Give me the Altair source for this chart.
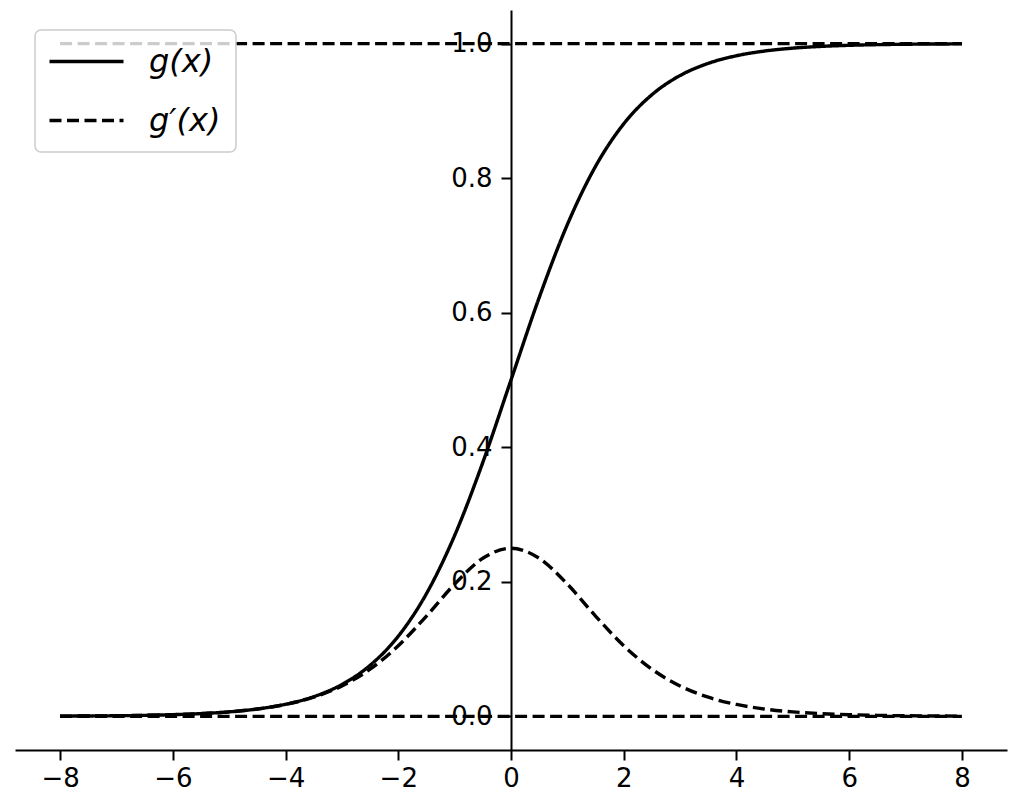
import altair as alt
import pandas as pd

# x positions
xs = [-8, -7.5, -7, -6.5, -6, -5.5, -5, -4.5, -4, -3.5, -3, -2.5, -2, -1.5, -1, -0.5,
      0, 0.5, 1, 1.5, 2, 2.5, 3, 3.5, 4, 4.5, 5, 5.5, 6, 6.5, 7, 7.5, 8]
# g(x) values
g_vals = [0.0003, 0.0006, 0.0009, 0.0015, 0.0025, 0.0041, 0.0067, 0.0110, 0.0180, 0.0293,
          0.0474, 0.0759, 0.1192, 0.1824, 0.2689, 0.3775, 0.5, 0.6225, 0.7311, 0.8176,
          0.8808, 0.9241, 0.9526, 0.9707, 0.9820, 0.9890, 0.9933, 0.9959, 0.9975, 0.9985,
          0.9991, 0.9994, 0.9997]
# g'(x) values
dg_vals = [0.0003, 0.0006, 0.0009, 0.0015, 0.0025, 0.0041, 0.0066, 0.0109, 0.0177, 0.0285,
           0.0452, 0.0701, 0.1050, 0.1491, 0.1966, 0.2350, 0.25, 0.2350, 0.1966, 0.1491,
           0.1050, 0.0701, 0.0452, 0.0285, 0.0177, 0.0109, 0.0066, 0.0041, 0.0025, 0.0015,
           0.0009, 0.0006, 0.0003]
series_names = ["g(x)", "g\u2032(x)"]
hline_y = [0.0, 1.0]
hline_x = [-8, 8]
x_ticks = [-8, -6, -4, -2, 0, 2, 4, 6, 8]
y_ticks = [0.0, 0.2, 0.4, 0.6, 0.8, 1.0]

rows = []
for x, v in zip(xs, g_vals):
    rows.append({"x": x, "y": v, "series": series_names[0]})
for x, v in zip(xs, dg_vals):
    rows.append({"x": x, "y": v, "series": series_names[1]})
df = pd.DataFrame(rows)

hdf = pd.DataFrame([{"x": hline_x[0], "x2": hline_x[1], "y": yv} for yv in hline_y])

W, H = 992, 740
xscale = alt.Scale(domain=[-8.8, 8.8], nice=False, zero=False)
yscale = alt.Scale(domain=[-0.05, 1.05], nice=False, zero=False)

DASH = [12, 5.5]
LW = 3.4

x_axis = alt.Axis(values=x_ticks, format="d", title=None, grid=False,
                  tickSize=10, labelPadding=5)
y_axis = alt.Axis(values=y_ticks, format=".1f", title=None, grid=False,
                  offset=-496, tickSize=10, labelPadding=9)

hlines = alt.Chart(hdf).mark_rule(color="black", strokeWidth=LW, strokeDash=DASH).encode(
    x=alt.X("x:Q", scale=xscale, axis=x_axis),
    x2="x2:Q",
    y=alt.Y("y:Q", scale=yscale, axis=y_axis),
)

curves = alt.Chart(df).mark_line(color="black", strokeWidth=LW, interpolate="monotone").encode(
    x=alt.X("x:Q", scale=xscale, axis=x_axis),
    y=alt.Y("y:Q", scale=yscale, axis=y_axis),
    strokeDash=alt.StrokeDash(
        "series:N",
        scale=alt.Scale(domain=series_names, range=[[1, 0], DASH]),
        legend=alt.Legend(
            title=None, orient="none", legendX=20, legendY=20,
            symbolType="M-2.5,0H2.5", symbolSize=876, symbolStrokeWidth=LW,
            symbolStrokeColor="black", symbolOffset=20,
            labelFontSize=32, labelFont="DejaVu Sans",
            labelFontStyle="italic", labelColor="black", labelOffset=46,
            rowPadding=26, padding=15, fillColor="rgba(255,255,255,0.8)",
            strokeColor="#cccccc", cornerRadius=6, labelLimit=300,
        ),
    ),
)

chart = alt.layer(hlines, curves).properties(
    width=W, height=H,
    autosize=alt.AutoSizeParams(type="none"),
    padding={"left": 15, "top": 10, "right": 25, "bottom": 56},
).configure(background="white").configure_view(
    stroke=None, strokeWidth=0
).configure_axis(
    domainColor="black", domainWidth=2, tickColor="black", tickWidth=2,
    labelFontSize=26, labelColor="black", labelFont="DejaVu Sans",
).configure_legend(strokeWidth=1.5)

chart.save("out.html", embed_options={"renderer": "svg", "actions": False})
